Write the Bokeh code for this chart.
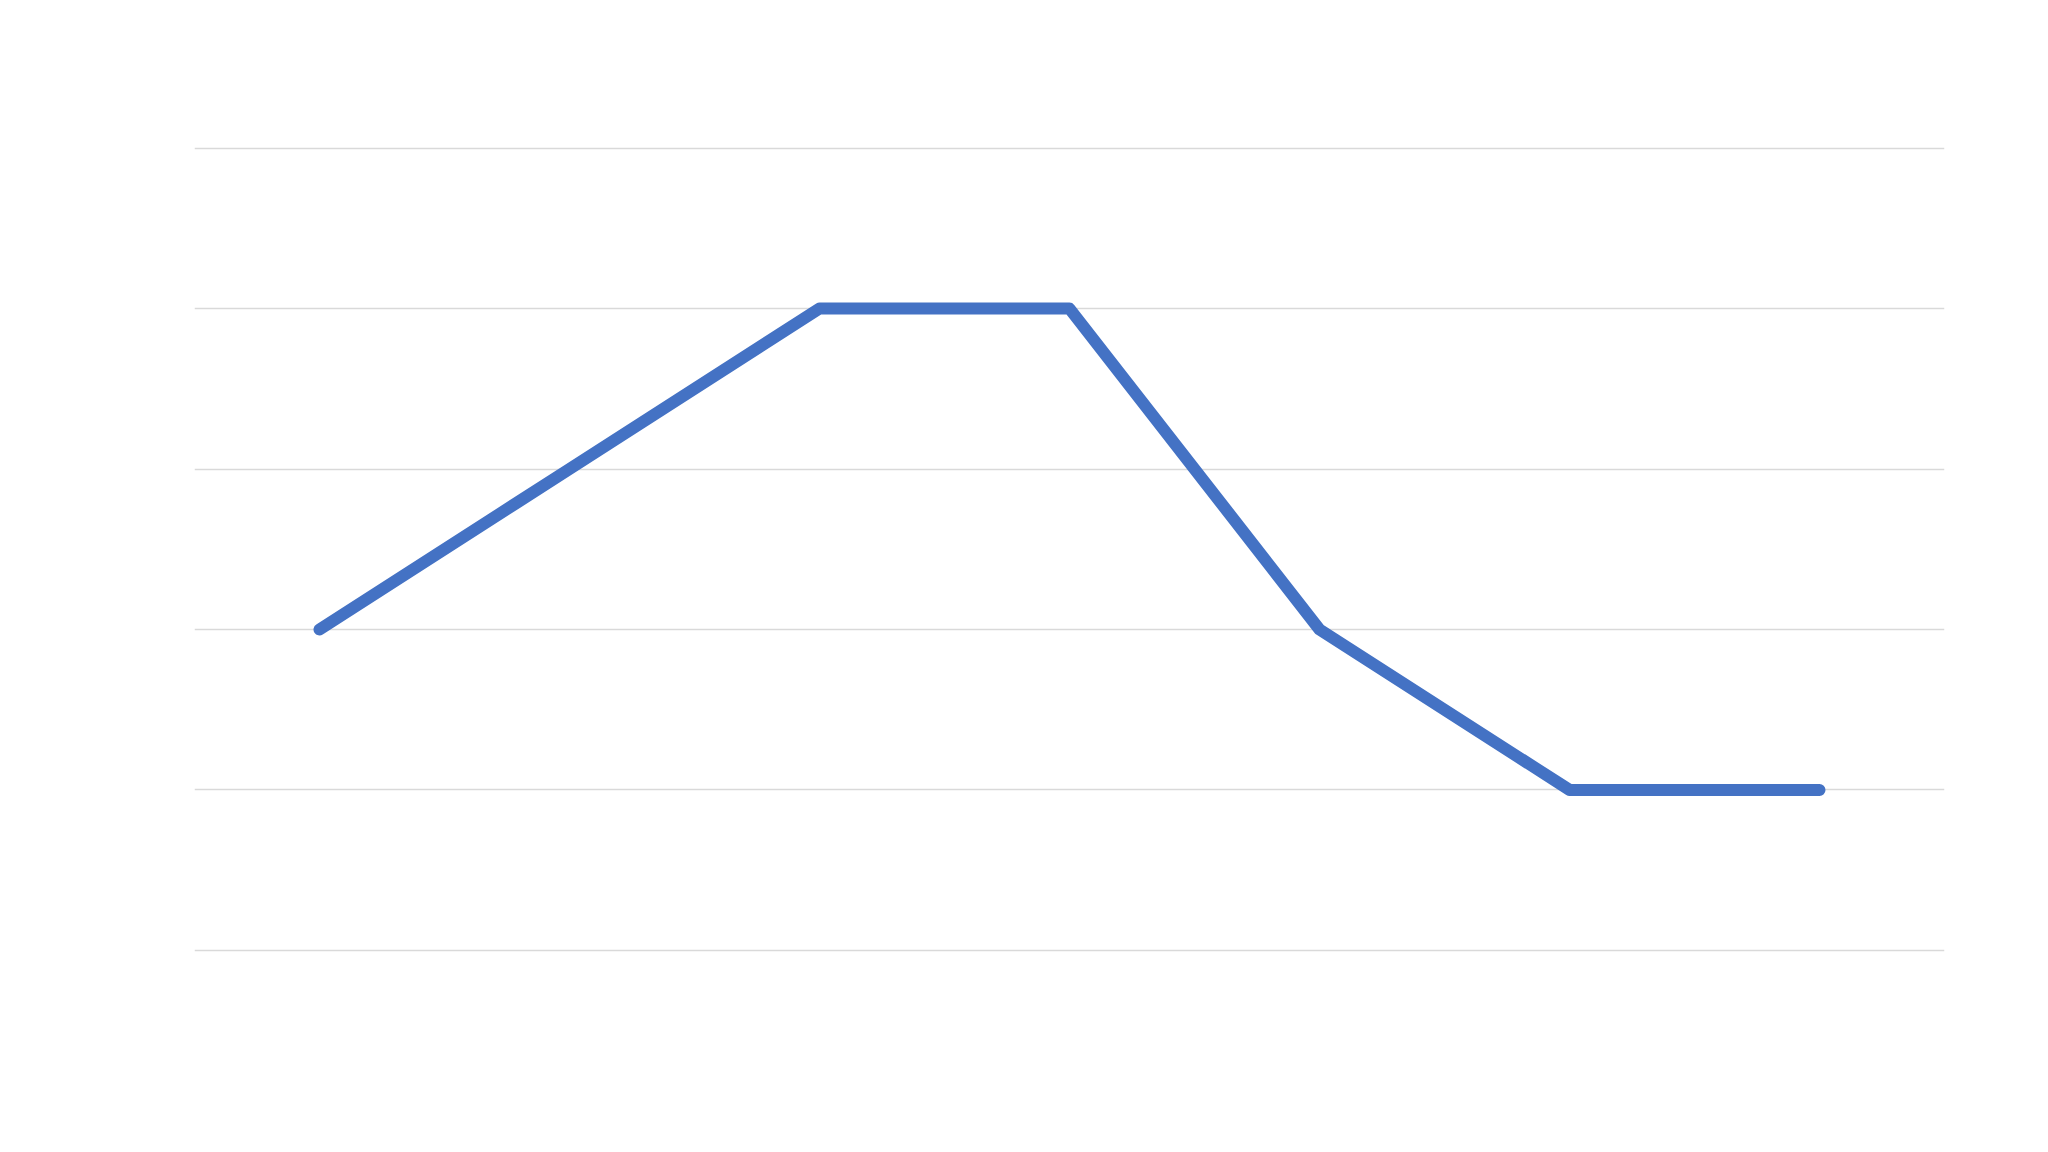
from bokeh.plotting import figure
from bokeh.models import FixedTicker, Range1d
from bokeh.embed import file_html
from bokeh.resources import INLINE

# data: seven evenly spaced categories, one series
x_idx = [0, 1, 2, 3, 4, 5, 6]
series = [2, 3, 4, 4, 2, 1, 1]
grid_ticks = [0, 1, 2, 3, 4, 5]

p = figure(width=2032, height=1136, output_backend="svg", toolbar_location=None,
           x_axis_location=None, y_axis_location=None,
           x_range=Range1d(-0.5, 6.5), y_range=Range1d(-1.16, 5.92),
           min_border_left=194, min_border_right=88, min_border_top=0, min_border_bottom=0)
p.outline_line_color = None
p.background_fill_color = "white"
p.border_fill_color = "white"

p.xgrid.grid_line_color = None
p.ygrid.ticker = FixedTicker(ticks=grid_ticks)
p.ygrid.grid_line_color = "#d9d9d9"
p.ygrid.grid_line_width = 1.5

p.line(x_idx, series, line_color="#4472C4", line_width=12,
       line_cap="round", line_join="round")

open("out.html", "w").write(file_html(p, INLINE))
